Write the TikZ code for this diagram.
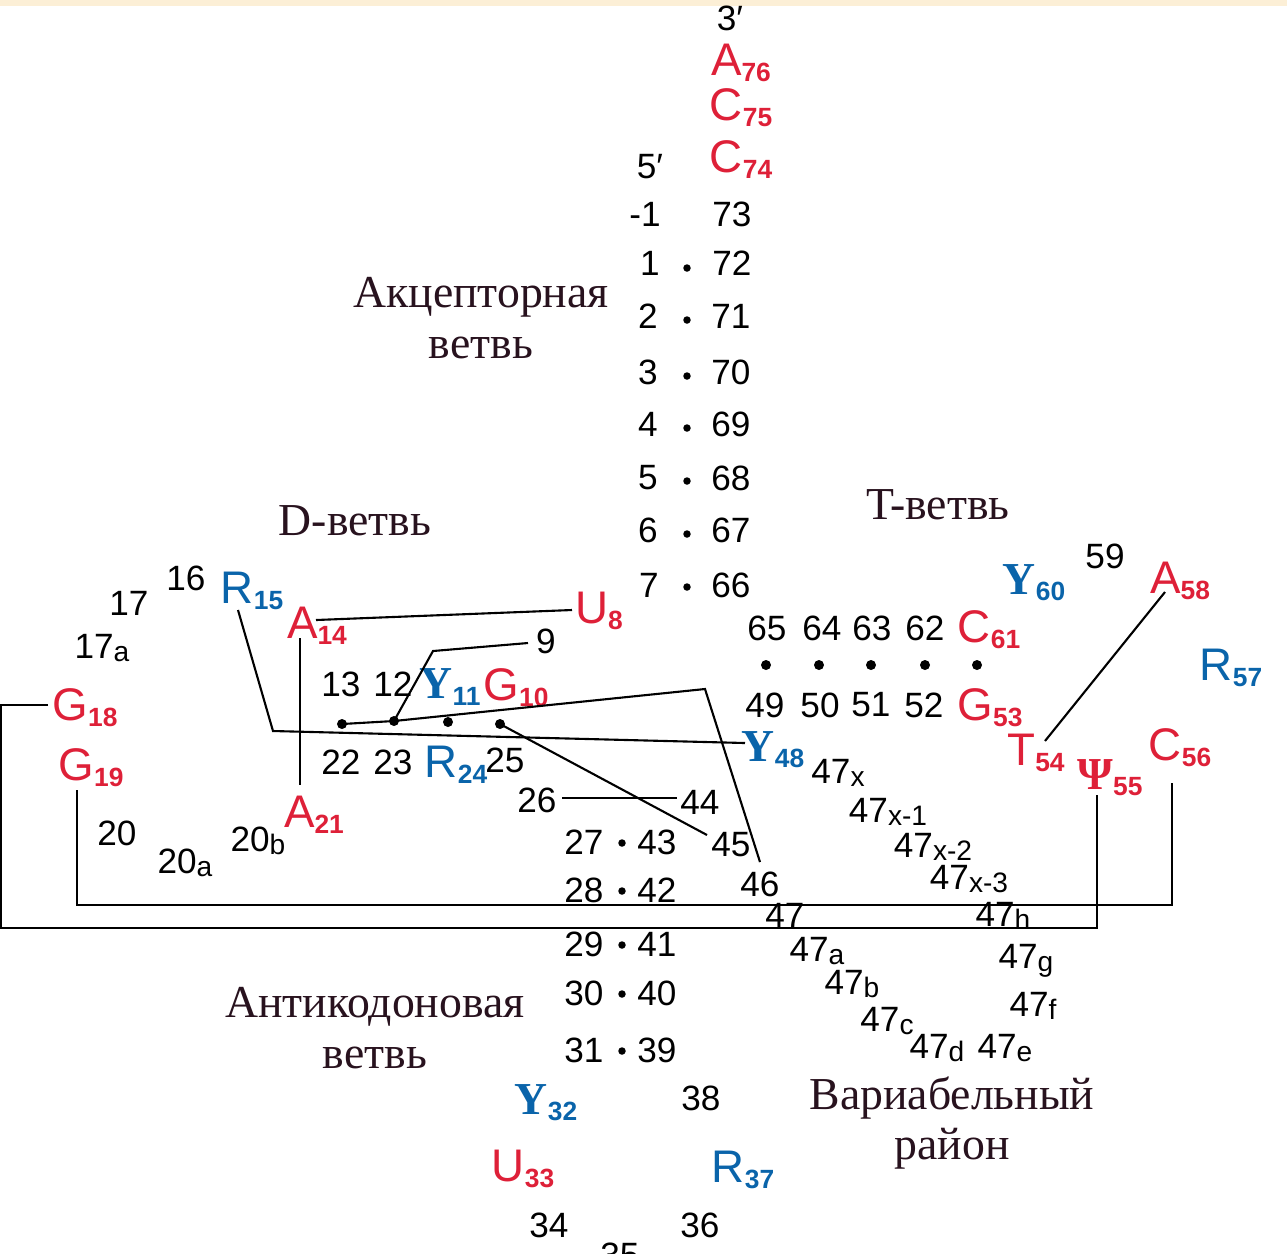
\documentclass[tikz,border=0pt]{standalone}
\usepackage{fontspec}
\setmainfont{Liberation Sans}
\newfontfamily\serifru{Liberation Serif}
\usepackage{tikz}
\usetikzlibrary{calc}
\definecolor{tRed}{RGB}{222,32,56}
\definecolor{tBlue}{RGB}{10,100,170}
\definecolor{labelInk}{RGB}{40,18,30}
\definecolor{creamBand}{RGB}{252,239,214}
\newcommand{\ntsub}[1]{\raisebox{-0.25ex}{\fontsize{7.5}{8}\selectfont\bfseries #1}}
\newcommand{\posidx}[1]{\raisebox{-0.15ex}{\fontsize{8}{8}\selectfont #1}}
\newcommand{\pyr}{{\serifru\bfseries Y}}

\begin{document}
\begin{tikzpicture}[
    x=0.01cm, y=-0.01cm,
    num/.style={inner sep=0pt, font=\fontsize{10}{10}\selectfont},
    ntred/.style={inner sep=0pt, text=tRed, font=\fontsize{13}{13}\selectfont},
    ntblue/.style={inner sep=0pt, text=tBlue, font=\fontsize{13}{13}\selectfont},
    region/.style={inner sep=0pt, align=center, text=labelInk,
                   font=\serifru\fontsize{13}{14.3}\selectfont},
    pairdot/.style={circle, fill=black, inner sep=0pt, minimum size=0.075cm},
    stemdot/.style={circle, fill=black, inner sep=0pt, minimum size=0.1cm},
    link/.style={draw=black, line width=0.6pt}
]
\useasboundingbox (0,0) rectangle (1287,1253);
\fill[creamBand] (0,0) rectangle (1287,6);

% Acceptor stem
\node[num] (p3) at (730,18) {3′};
\node[ntred] (a76) at (741,63) {A\ntsub{76}};
\node[ntred] (c75) at (741,108) {C\ntsub{75}};
\node[ntred] (c74) at (741,160) {C\ntsub{74}};
\node[num] (p5) at (650,167) {5′};
\node[num] (nm1) at (645,214) {-1};
\node[num] (n73) at (732,214) {73};
\node[num] (n1) at (650,263) {1};
\node[pairdot] (d1) at (687,268) {};
\node[num] (n72) at (732,263) {72};
\node[num] (n2) at (648,316) {2};
\node[pairdot] (d2) at (687,320) {};
\node[num] (n71) at (731,316) {71};
\node[num] (n3) at (648,372) {3};
\node[pairdot] (d3) at (687,376) {};
\node[num] (n70) at (731,372) {70};
\node[num] (n4) at (648,424) {4};
\node[pairdot] (d4) at (687,428) {};
\node[num] (n69) at (731,424) {69};
\node[num] (n5) at (648,478) {5};
\node[pairdot] (d5) at (687,481) {};
\node[num] (n68) at (731,478) {68};
\node[num] (n6) at (648,530) {6};
\node[pairdot] (d6) at (687,534) {};
\node[num] (n67) at (731,530) {67};
\node[num] (n7) at (649,585) {7};
\node[pairdot] (d7) at (687,587) {};
\node[num] (n66) at (731,585) {66};

% Region names
\node[region] (acc) at (481,318) {Акцепторная\\ветвь};
\node[region] (darm) at (355,521) {D-ветвь};
\node[region] (tarm) at (938,505) {T-ветвь};
\node[region] (anti) at (375,1028) {Антикодоновая\\ветвь};
\node[region] (vari) at (952,1123) {Вариабельный\\район};

% D-arm
\node[ntred] (u8) at (599,611) {U\ntsub{8}};
\node[num] (n9) at (546,641) {9};
\node[ntred] (g10) at (516,688) {G\ntsub{10}};
\node[ntblue] (y11) at (450,687) {\pyr\ntsub{11}};
\node[num] (n12) at (393,684) {12};
\node[num] (n13) at (341,684) {13};
\node[ntred] (a14) at (317,626) {A\ntsub{14}};
\node[ntblue] (r15) at (252,591) {R\ntsub{15}};
\node[num] (n16) at (186,578) {16};
\node[num] (n17) at (129,603) {17};
\node[num] (n17a) at (102,648) {17\posidx{a}};
\node[ntred] (g18) at (85,708) {G\ntsub{18}};
\node[ntred] (g19) at (91,768) {G\ntsub{19}};
\node[num] (n20) at (117,833) {20};
\node[num] (n20a) at (185,863) {20\posidx{a}};
\node[num] (n20b) at (258,841) {20\posidx{b}};
\node[ntred] (a21) at (314,815) {A\ntsub{21}};
\node[num] (n22) at (341,762) {22};
\node[num] (n23) at (393,762) {23};
\node[ntblue] (r24) at (456,765) {R\ntsub{24}};
\node[num] (n25) at (505,760) {25};
\node[stemdot] (d22) at (342,724) {};
\node[stemdot] (d23) at (394,721) {};
\node[stemdot] (d24) at (448,722) {};
\node[stemdot] (d25) at (500,724) {};

% Anticodon arm
\node[num] (n26) at (537,800) {26};
\node[num] (n27) at (584,842) {27};
\node[pairdot] (d27) at (622,843) {};
\node[num] (n43) at (657,842) {43};
\node[num] (n28) at (584,890) {28};
\node[pairdot] (d28) at (622,891) {};
\node[num] (n42) at (657,890) {42};
\node[num] (n29) at (584,944) {29};
\node[pairdot] (d29) at (622,945) {};
\node[num] (n41) at (657,944) {41};
\node[num] (n30) at (584,993) {30};
\node[pairdot] (d30) at (622,994) {};
\node[num] (n40) at (657,993) {40};
\node[num] (n31) at (584,1050) {31};
\node[pairdot] (d31) at (622,1051) {};
\node[num] (n39) at (657,1050) {39};
\node[ntblue] (y32) at (546,1103) {\pyr\ntsub{32}};
\node[num] (n38) at (701,1098) {38};
\node[ntred] (u33) at (523,1169) {U\ntsub{33}};
\node[ntblue] (r37) at (743,1170) {R\ntsub{37}};
\node[num] (n34) at (549,1225) {34};
\node[num] (n36) at (700,1225) {36};
\node[num] (n35) at (620,1255) {35};
\node[num] (n44) at (700,802) {44};
\node[num] (n45) at (731,845) {45};
\node[num] (n46) at (760,884) {46};

% Variable region
\node[ntblue] (y48) at (773,750) {\pyr\ntsub{48}};
\node[num] (n47x) at (838,773) {47\posidx{x}};
\node[num] (n47x1) at (888,812) {47\posidx{x-1}};
\node[num] (n47x2) at (933,847) {47\posidx{x-2}};
\node[num] (n47x3) at (969,879) {47\posidx{x-3}};
\node[num] (n47) at (785,915) {47};
\node[num] (n47h) at (1003,916) {47\posidx{h}};
\node[num] (n47a) at (817,951) {47\posidx{a}};
\node[num] (n47b) at (852,984) {47\posidx{b}};
\node[num] (n47c) at (887,1021) {47\posidx{c}};
\node[num] (n47d) at (937,1048) {47\posidx{d}};
\node[num] (n47e) at (1005,1048) {47\posidx{e}};
\node[num] (n47f) at (1033,1006) {47\posidx{f}};
\node[num] (n47g) at (1026,961) {47\posidx{g}};

% T-arm
\node[num] (n65) at (767,628) {65};
\node[num] (n64) at (822,628) {64};
\node[num] (n63) at (872,628) {63};
\node[num] (n62) at (925,628) {62};
\node[ntred] (c61) at (989,630) {C\ntsub{61}};
\node[stemdot] (d49) at (766,665) {};
\node[stemdot] (d50) at (819,665) {};
\node[stemdot] (d51) at (871,665) {};
\node[stemdot] (d52) at (925,665) {};
\node[stemdot] (d53) at (977,665) {};
\node[num] (n49) at (765,705) {49};
\node[num] (n50) at (820,705) {50};
\node[num] (n51) at (871,705) {51};
\node[num] (n52) at (924,705) {52};
\node[ntred] (g53) at (990,708) {G\ntsub{53}};
\node[ntred] (t54) at (1036,753) {T\ntsub{54}};
\node[ntred] (psi55) at (1110,778) {{\serifru\bfseries Ψ}\ntsub{55}};
\node[ntred] (c56) at (1180,748) {C\ntsub{56}};
\node[ntblue] (r57) at (1231,668) {R\ntsub{57}};
\node[ntred] (a58) at (1180,581) {A\ntsub{58}};
\node[num] (n59) at (1105,556) {59};
\node[ntblue] (y60) at (1034,583) {\pyr\ntsub{60}};

% Bends
\coordinate (k15) at (273,731);
\coordinate (k9) at (433,651);
\coordinate (k46) at (705,689);

% Tertiary links
\draw[link] ($(a14)+(-1,-6)$) -- ($(u8)+(-27,-1)$);
\draw[link] ($(a14)+(-17,12)$) -- ($(a21)+(-14,-30)$);
\draw[link] ($(r15)+(-14,19)$) -- (k15) -- ($(y48)+(-28,-7)$);
\draw[link] ($(n9)+(-18,2)$) -- (k9) -- (d23.center);
\draw[link] (d22.center) -- (d23.center) -- (k46) -- ($(n46)+(0,-22)$);
\draw[link] (d25.center) -- ($(n45)+(-24,-10)$);
\draw[link] ($(n26)+(25,-2)$) -- ($(n44)+(-23,-4)$);
\draw[link] ($(t54)+(9,-12)$) -- ($(a58)+(-15,11)$);
\draw[link] ($(g18)+(-37,-3)$) -- ++(-47,0) |- ($(psi55)+(-13,150)$) -- ($(psi55)+(-13,17)$);
\draw[link] ($(g19)+(-14,22)$) |- ($(c56)+(-8,157)$) -- ($(c56)+(-8,35)$);

\end{tikzpicture}
\end{document}
